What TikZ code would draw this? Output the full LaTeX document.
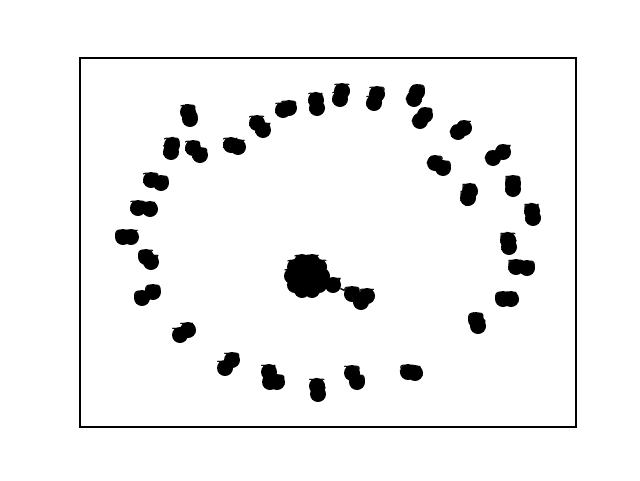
\documentclass[tikz,border=0pt]{standalone}
\usepackage{fontspec}
\newfontfamily\dejavu{DejaVu Sans}
\usetikzlibrary{backgrounds}

\begin{document}
\begin{tikzpicture}[
  x=1pt, y=-1pt,
  vertex/.style={circle, fill=black, inner sep=0pt, minimum size=16pt},
  tag/.style={font=\dejavu\fontsize{14}{16}\selectfont, text=black, inner sep=0pt, yshift=1.5pt},
  edge/.style={draw=black, line width=1.4pt}
]
  \useasboundingbox (0,0) rectangle (640,480);
  \draw[line width=1.1pt] (80,58) rectangle (576,427);

  % pairs round the ring
  \foreach \i/\xa/\ya/\xb/\yb [evaluate=\i as \la using int(2*\i+16),
                               evaluate=\i as \lb using int(2*\i+17)] in {
      1/188/112/190/119, 2/172/145/171/152, 3/193/148/200/155, 4/231/145/238/147,
      5/257/123/263/130, 6/151/180/161/183, 7/138/208/150/209, 8/283/110/289/108,
      9/316/100/317/108, 10/342/91/340/99, 11/377/94/374/103, 12/417/92/414/99,
      13/425/115/420/121, 14/458/132/464/128, 15/493/158/503/152, 16/435/163/443/168,
      17/468/198/470/191, 18/513/183/513/189, 19/532/211/533/218, 20/508/240/509/247,
      21/516/267/527/268, 22/503/299/511/299, 23/476/320/478/326, 24/123/237/131/237,
      25/146/257/151/262, 26/142/298/153/292, 27/180/335/188/330, 28/225/368/232/360,
      29/269/372/270/382, 30/317/386/318/394, 31/352/373/357/382, 32/408/372/415/373} {
    \node[vertex, label={[tag]center:\la}] (a\i) at (\xa,\ya) {};
    \node[vertex, label={[tag]center:\lb}] (b\i) at (\xb,\yb) {};
  }
  \node[vertex, label={[tag]center:82}] (c29) at (277,382) {};

  % central cluster
  \node[vertex, label={[tag]center:0}] (hub) at (307,276) {};
  \foreach \j/\x/\y/\lbl in {1/315/276/1, 2/311/283/2, 3/303/283/3, 4/299/276/4,
      5/303/269/5, 6/311/269/6, 7/322/276/7, 8/319/285/8, 9/312/290/9,
      10/302/290/10, 11/295/285/11, 12/292/276/12, 13/295/267/13, 14/302/262/14,
      15/312/262/15, 16/319/267/16} {
    \node[vertex, label={[tag]center:\lbl}] (k\j) at (\x,\y) {};
  }
  \node[vertex, label={[tag]center:17}] (t1) at (333,285) {};
  \node[vertex, label={[tag]center:83}] (t2) at (352,294) {};
  \node[vertex, label={[tag]center:84}] (t3) at (361,302) {};
  \node[vertex, label={[tag]center:85}] (t4) at (367,296) {};

  \begin{scope}[on background layer]
    \foreach \i in {1,...,32} \draw[edge] (a\i) -- (b\i);
    \draw[edge] (b29) -- (c29);
    \foreach \j in {1,...,16} \draw[edge] (hub) -- (k\j);
    \draw[edge] (k8) -- (t1);
    \draw[edge] (t1) -- (t2);
    \draw[edge] (t2) -- (t3);
    \draw[edge] (t2) -- (t4);
  \end{scope}
\end{tikzpicture}
\end{document}
